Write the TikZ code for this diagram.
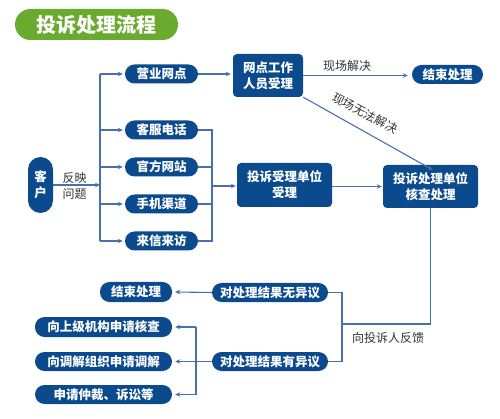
\documentclass[tikz,border=0pt]{standalone}
\usepackage{fontspec}
\setmainfont{Noto Sans CJK SC}
\usetikzlibrary{arrows.meta}
\definecolor{dblue}{HTML}{0C4A8E}
\definecolor{lblue}{HTML}{4670AE}
\definecolor{tgreen}{HTML}{6AAA2E}
\definecolor{tgray}{HTML}{333333}
\tikzset{
  base/.style={fill=dblue, text=white, inner sep=0pt, font=\bfseries\fontsize{12.5}{16}\selectfont, align=center},
  pill/.style={base, rounded corners=9.5pt},
  rbox/.style={base, rounded corners=4pt},
  ln/.style={draw=lblue, line width=1.1pt},
  arr/.style={ln, -{Stealth[length=5pt,width=4.5pt]}},
  lbl/.style={text=tgray, font=\fontsize{12}{16}\selectfont, align=center, inner sep=1pt},
}
\begin{document}
\begin{tikzpicture}[x=1pt,y=-1pt]
\useasboundingbox (0,0) rectangle (500,419);
% title
\node[fill=tgreen, text=white, rounded corners=15.5pt, minimum width=163pt, minimum height=31pt, inner sep=0pt, font=\bfseries\fontsize{20}{24}\selectfont] (title) at (96.5,24.5) {投诉处理流程};
% customer
\node[base, rounded corners=12.5pt, minimum width=25pt, minimum height=56pt] (kh) at (40.5,185) {客\\户};
\node[lbl] (fy) at (74.5,186) {反映\\问题};
% channels
\node[pill, minimum width=73pt, minimum height=19pt] (yy) at (161.5,74) {营业网点};
\node[pill, minimum width=73pt, minimum height=19pt] (kf) at (161.5,130) {客服电话};
\node[pill, minimum width=73pt, minimum height=19pt] (gf) at (161.5,167) {官方网站};
\node[pill, minimum width=73pt, minimum height=19pt] (sj) at (161.5,204) {手机渠道};
\node[pill, minimum width=73pt, minimum height=19pt] (lx) at (161.5,241) {来信来访};
% middle
\node[rbox, minimum width=70pt, minimum height=43pt] (wd) at (268,75.5) {网点工作\\人员受理};
\node[pill, minimum width=71pt, minimum height=19pt] (js1) at (447.5,74.5) {结束处理};
\node[rbox, minimum width=95pt, minimum height=44pt] (sl) at (284.5,185) {投诉受理单位\\受理};
\node[rbox, minimum width=95pt, minimum height=43pt] (hc) at (430.5,186.5) {投诉处理单位\\核查处理};
% feedback
\node[pill, minimum width=116pt, minimum height=19pt] (wy) at (270,292.5) {对处理结果无异议};
\node[pill, minimum width=116pt, minimum height=19pt] (yy2) at (270,361.5) {对处理结果有异议};
\node[lbl] (fk) at (388,338) {向投诉人反馈};
\node[pill, minimum width=72pt, minimum height=20pt] (js2) at (136,292) {结束处理};
\node[pill, minimum width=137pt, minimum height=20pt] (sj1) at (103.5,327) {向上级机构申请核查};
\node[pill, minimum width=137pt, minimum height=19pt] (tj) at (103.5,361.5) {向调解组织申请调解};
\node[pill, minimum width=137pt, minimum height=19pt] (zc) at (103.5,394.5) {申请仲裁、诉讼等};
% labels
\node[lbl] (xc) at (347,66) {现场解决};
\node[lbl, rotate=-28] (wf) at (365,113) {现场无法解决};
% coordinates
\coordinate (t) at (100,185);
\coordinate (m) at (212,186);
\coordinate (f) at (342,324);
\coordinate (v) at (196,361.5);
% left trunk
\draw[arr] (kh.east |- t) -- (t);
\draw[ln] (t |- yy) -- (t |- lx);
\draw[arr] (t |- yy) -- ([xshift=-2pt]yy.west);
\draw[arr] (t |- kf) -- ([xshift=-2pt]kf.west);
\draw[arr] (t |- gf) -- ([xshift=-2pt]gf.west);
\draw[arr] (t |- sj) -- ([xshift=-2pt]sj.west);
\draw[arr] (t |- lx) -- ([xshift=-2pt]lx.west);
% right merge
\draw[ln] (kf.east) -- (kf.east -| m) -- (lx.east -| m) -- (lx.east);
\draw[ln] (gf.east) -- (gf.east -| m);
\draw[ln] (sj.east) -- (sj.east -| m);
\draw[arr] (m) -- ([xshift=-1pt]sl.west |- m);
% top route
\draw[arr] (yy.east) -- ([xshift=-2pt]wd.west |- yy);
\draw[arr] (wd.east) -- ([xshift=-4pt]js1.west |- wd);
\draw[arr] (wd.south east) -- ([xshift=2pt,yshift=-5pt]hc.north);
\draw[arr] (sl.east |- hc) -- ([xshift=-1pt]hc.west);
% feedback
\draw[ln] (hc.south) -- (hc.south |- f) -- (f);
\draw[ln] (f |- wy) -- (f |- yy2);
\draw[ln] (f |- wy) -- (wy.east);
\draw[ln] (f |- yy2) -- (yy2.east);
\draw[arr] (wy.west) -- ([xshift=3pt]js2.east);
\draw[arr] (yy2.west) -- ([xshift=3pt]tj.east);
\draw[ln] (v |- sj1) -- (v |- zc);
\draw[arr] (v |- sj1) -- ([xshift=3pt]sj1.east);
\draw[arr] (v |- zc) -- ([xshift=3pt]zc.east);
\end{tikzpicture}
\end{document}
